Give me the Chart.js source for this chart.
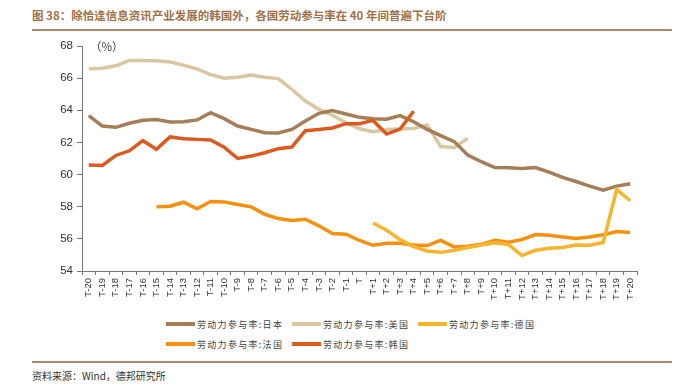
<!DOCTYPE html>
<html>
<head>
<meta charset="utf-8">
<script src="https://cdn.jsdelivr.net/npm/chart.js@4.4.1/dist/chart.umd.min.js"></script>
<style>
  html,body{margin:0;padding:0;background:#fff;}
  body{width:674px;height:387px;position:relative;overflow:hidden;font-family:"Liberation Sans",Arial,sans-serif;}
  #title{position:absolute;left:32px;top:7px;font:bold 11.5px "Noto Sans CJK SC",sans-serif;color:#A0724A;white-space:nowrap;}
  .rule{position:absolute;left:32px;width:640px;background:#B08A65;}
  #wrap{position:absolute;left:0;top:0;width:674px;height:300px;}
  #unit{position:absolute;left:90px;top:38px;font:11.5px "Noto Sans CJK SC",sans-serif;color:#444;}
  #legend{position:absolute;left:166px;top:316px;width:380px;display:flex;flex-wrap:wrap;row-gap:4px;}
  .item{display:flex;align-items:center;width:126px;height:16px;}
  .item i{display:block;width:29px;height:4px;margin-right:2px;}
  .item span{font:9px "Noto Sans CJK SC",sans-serif;color:#444;letter-spacing:1.3px;white-space:nowrap;}
  #source{position:absolute;left:32px;top:368px;font:10px "Noto Sans CJK SC",sans-serif;color:#333;white-space:nowrap;}
</style>
</head>
<body>
<div id="title">图 38：除恰逢信息资讯产业发展的韩国外，各国劳动参与率在 40 年间普遍下台阶</div>
<div class="rule" style="top:29px;height:2px;"></div>
<div id="wrap"><canvas id="c" width="674" height="300"></canvas></div>
<div id="unit">（%）</div>
<div id="legend"></div>
<div class="rule" style="top:361px;height:1.5px;"></div>
<div id="source">资料来源：Wind，德邦研究所</div>
<script>
const labels = ['T-20','T-19','T-18','T-17','T-16','T-15','T-14','T-13','T-12','T-11','T-10',
  'T-9','T-8','T-7','T-6','T-5','T-4','T-3','T-2','T-1','T',
  'T+1','T+2','T+3','T+4','T+5','T+6','T+7','T+8','T+9','T+10',
  'T+11','T+12','T+13','T+14','T+15','T+16','T+17','T+18','T+19','T+20'];
const yTicks = [54, 56, 58, 60, 62, 64, 66, 68];

const seriesNames = ['劳动力参与率:日本','劳动力参与率:美国','劳动力参与率:德国','劳动力参与率:法国','劳动力参与率:韩国'];
const seriesColors = ['#A57D56','#D8C7A0','#F6B42F','#F7900C','#DD5A1E'];

const japan = [63.67,63.02,62.94,63.19,63.38,63.42,63.27,63.29,63.40,63.85,63.48,
  63.02,62.81,62.60,62.59,62.81,63.33,63.81,63.98,63.77,63.56,
  63.48,63.44,63.67,63.29,62.81,62.42,62.05,61.21,60.80,60.44,
  60.42,60.38,60.44,60.15,59.82,59.57,59.28,59.03,59.28,59.43];
const usa = [66.58,66.62,66.77,67.10,67.10,67.08,67.01,66.80,66.58,66.22,66.00,
  66.06,66.20,66.06,65.97,65.31,64.58,64.06,63.69,63.23,62.85,
  62.66,62.80,62.84,62.87,63.08,61.74,61.68,62.25,null,null,
  null,null,null,null,null,null,null,null,null,null];
const germany = [null,null,null,null,null,null,null,null,null,null,null,
  null,null,null,null,null,null,null,null,null,null,
  56.99,56.54,55.95,55.52,55.25,55.16,55.29,55.46,55.62,55.75,
  55.65,54.96,55.29,55.41,55.46,55.62,55.60,55.77,59.07,58.37];
const france = [null,null,null,null,null,57.99,58.03,58.28,57.87,58.32,58.30,
  58.14,57.99,57.53,57.26,57.14,57.22,56.81,56.33,56.29,55.90,
  55.60,55.73,55.73,55.62,55.58,55.91,55.50,55.54,55.66,55.91,
  55.79,55.95,56.27,56.22,56.12,56.02,56.12,56.25,56.45,56.39];
const korea = [60.59,60.57,61.19,61.48,62.11,61.57,62.34,62.23,62.19,62.15,61.70,
  61.00,61.15,61.36,61.61,61.71,62.73,62.81,62.90,63.17,63.17,
  63.37,62.52,62.83,63.94,null,null,null,null,null,null,
  null,null,null,null,null,null,null,null,null,null];

const seriesData = [japan, usa, germany, france, korea];
const drawOrder = [3, 4, 1, 2, 0];

const datasets = seriesData.map((d, i) => ({
  label: seriesNames[i], data: d,
  borderColor: seriesColors[i], backgroundColor: seriesColors[i],
  borderWidth: 3.5, pointRadius: 0, pointHoverRadius: 0, tension: 0,
  spanGaps: false, order: drawOrder[i]
}));

new Chart(document.getElementById('c'), {
  type: 'line',
  data: { labels, datasets },
  options: {
    responsive: false, animation: false,
    layout: { padding: { left: 0, top: 46, right: 37, bottom: 0 } },
    plugins: { legend: { display: false }, tooltip: { enabled: false } },
    scales: {
      x: {
        offset: true,
        grid: { offset: true, drawOnChartArea: false, tickLength: 4, color: '#777' },
        border: { color: '#777' },
        ticks: { autoSkip: false, maxRotation: 90, minRotation: 90, padding: 3, color: '#333',
          font: { family: '"Liberation Sans", Arial', size: 9.5 } },
        afterFit: s => { s.height = 29; }
      },
      y: {
        min: yTicks[0], max: yTicks[yTicks.length - 1],
        afterBuildTicks: s => { s.ticks = yTicks.map(v => ({ value: v })); },
        grid: { drawOnChartArea: false, tickLength: 5, color: '#777' },
        border: { color: '#777' },
        ticks: { padding: 4, color: '#333', font: { family: '"Liberation Sans", Arial', size: 11.5 } },
        afterFit: s => { s.width = 82; }
      }
    }
  }
});

const lg = document.getElementById('legend');
seriesNames.forEach((n, i) => {
  const it = document.createElement('div');
  it.className = 'item';
  it.innerHTML = `<i style="background:${seriesColors[i]}"></i><span>${n}</span>`;
  lg.appendChild(it);
});
</script>
</body>
</html>
